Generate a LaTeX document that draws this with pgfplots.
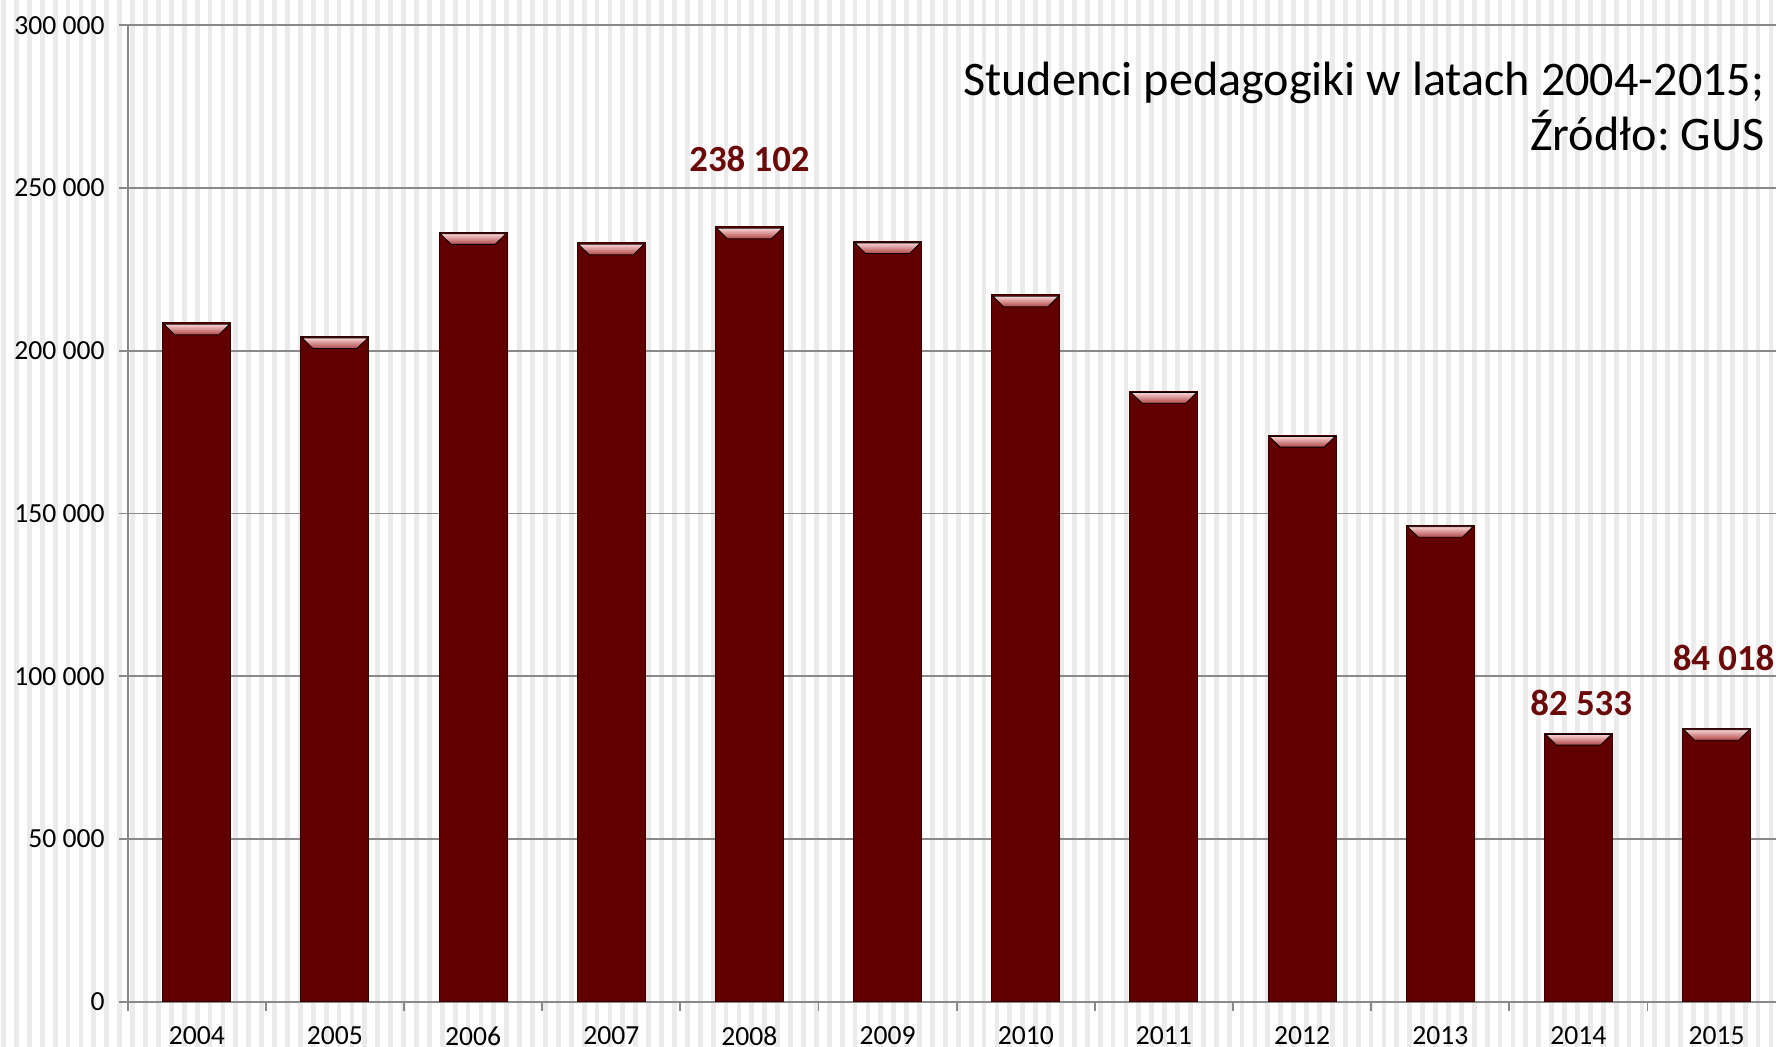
\documentclass[border=0pt]{standalone}
\usepackage{pgfplots}
\pgfplotsset{compat=1.18}
\usepackage{fontspec}
\setmainfont{Carlito}
\frenchspacing
\definecolor{barred}{HTML}{600000}
\definecolor{bardark}{HTML}{3A0000}
\definecolor{labred}{HTML}{6A0A0A}
\definecolor{gridgray}{HTML}{898989}
\definecolor{stripe}{HTML}{EBEBEB}
\definecolor{bevtop}{HTML}{F8D2D2}
\definecolor{bevbot}{HTML}{B04545}

\pgfdeclareplotmark{bevel}{%
  \shade[top color=bevtop, bottom color=bevbot]
    (-16.4pt,-0.7pt) -- (16.4pt,-0.7pt) -- (11pt,-6pt) -- (-11pt,-6pt) -- cycle;
}

\pgfplotstableread{
x val
0 208600
1 204400
2 236400
3 233200
4 238102
5 233600
6 217200
7 187600
8 174100
9 146400
10 82533
11 84018
}\datatable

\begin{document}
\begin{tikzpicture}[x=1pt,y=1pt]
\path[use as bounding box] (-63.85,-22.65) rectangle (824.15,500.85);
\fill[white] (-63.85,-22.65) rectangle (824.15,500.85);
\foreach \i in {0,...,137} {
  \fill[stripe] ({-63.85+0.6+\i*6.45}, -22.65) rectangle ++(2.4, 523.5);
}
\begin{axis}[
  at={(0,0)}, anchor=south west, scale only axis,
  width=829pt, height=488.15pt,
  xmin=-0.5, xmax=11.5, ymin=0, ymax=300000,
  clip=false,
  axis lines*=left,
  axis line style={-, draw=gridgray, line width=0.9pt},
  xtick={0,...,11},
  xticklabels={2004,2005,2006,2007,2008,2009,2010,2011,2012,2013,2014,2015},
  minor xtick={-0.5,0.5,...,11.5},
  major x tick style={draw=none},
  minor x tick style={draw=gridgray, line width=0.9pt},
  minor tick length=4.5pt,
  major tick length=4.5pt,
  tick align=outside,
  ytick={0,50000,100000,150000,200000,250000,300000},
  yticklabels={0,50 000,100 000,150 000,200 000,250 000,300 000},
  major y tick style={draw=gridgray, line width=0.9pt},
  ymajorgrids,
  grid style={draw=gridgray, line width=0.9pt},
  tick label style={font=\fontsize{13.8}{14}\selectfont, text=black},
  yticklabel style={xshift=-3.5pt},
  xticklabel style={yshift=-4.4pt},
]
\addplot[ybar, bar width=34pt, fill=barred, draw=bardark, line width=0.5pt]
  table[x=x, y=val] {\datatable};
\addplot[only marks, mark=bevel] table[x=x, y=val] {\datatable};
\node[font=\bfseries\fontsize{18.4}{19}\selectfont, text=labred] at (axis cs:4,259070) {238 102};
\node[font=\bfseries\fontsize{18.4}{19}\selectfont, text=labred] at (axis cs:10.02,91660) {82 533};
\node[font=\bfseries\fontsize{18.4}{19}\selectfont, text=labred] at (axis cs:11.05,105600) {84 018};
\end{axis}
\node[anchor=base east, inner sep=0pt, font=\fontsize{24.1}{25}\selectfont] at (818.5,453.3) {Studenci pedagogiki w latach 2004-2015;};
\node[anchor=base east, inner sep=0pt, font=\fontsize{24.1}{25}\selectfont] at (818.5,425.8) {Źródło: GUS};
\end{tikzpicture}
\end{document}
